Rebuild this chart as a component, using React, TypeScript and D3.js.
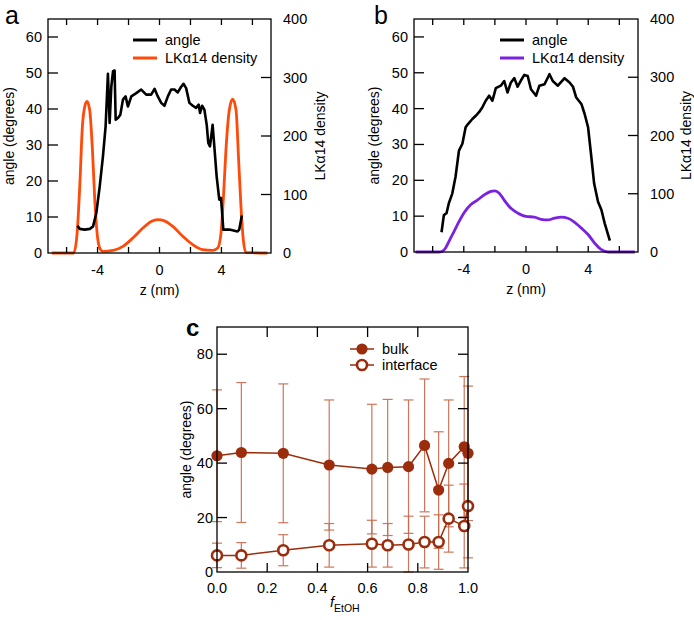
import * as d3 from 'd3';

// panel a: angle profile and LKa14 density (pure water)
const aAngleZ = [-5.3, -5.15, -4.83, -4.5, -4.29, -4.08, -3.86, -3.65, -3.48, -3.33, -3.22, -3.11, -3.0, -2.9, -2.83, -2.68, -2.53, -2.36, -2.19, -2.04, -1.82, -1.5, -1.18, -0.86, -0.54, -0.32, -0.11, 0.11, 0.32, 0.54, 0.75, 0.97, 1.18, 1.39, 1.55, 1.72, 1.93, 2.15, 2.36, 2.53, 2.62, 2.75, 2.9, 3.05, 3.15, 3.26, 3.43, 3.54, 3.69, 3.86, 3.97, 4.03, 4.12, 4.51, 5.04, 5.15, 5.32];
const aAngle = [7.6, 6.7, 6.5, 6.7, 7.4, 11.1, 18.5, 26.9, 35.2, 49.8, 36.1, 46.3, 50.5, 50.7, 37.0, 37.5, 38.4, 42.6, 43.5, 40.7, 43.5, 44.4, 45.4, 44.0, 44.0, 45.6, 43.5, 41.7, 40.9, 43.5, 45.4, 45.4, 44.6, 46.1, 47.0, 45.8, 41.7, 40.9, 40.3, 41.2, 38.9, 40.9, 39.8, 35.6, 30.6, 29.6, 35.6, 29.6, 21.3, 14.8, 15.3, 12.0, 6.5, 6.5, 6.0, 6.5, 10.4];
const aDensZ = [-6.95, -5.54, -5.32, -5.15, -4.98, -4.83, -4.68, -4.51, -4.33, -4.18, -4.03, -3.86, -3.65, -3.0, -2.36, -1.72, -1.07, -0.54, -0.11, 0.32, 0.86, 1.5, 2.15, 2.79, 3.43, 3.76, 3.97, 4.12, 4.29, 4.51, 4.72, 4.94, 5.11, 5.26, 5.41, 5.58, 6.97];
const aDens = [0, 0, 34, 114, 216, 250, 259, 245, 176, 91, 34, 8.5, 2.8, 4.5, 11.4, 25.6, 42.7, 54, 57, 55, 45.5, 28.5, 14.2, 5.7, 4.5, 8.5, 34, 91, 176, 245, 263, 245, 159, 80, 23, 1, 0];

// panel b: angle profile and LKa14 density (ethanol)
const bAngleZ = [-5.43, -5.28, -5.11, -4.96, -4.74, -4.53, -4.31, -4.09, -3.88, -3.73, -3.45, -3.23, -3.02, -2.8, -2.59, -2.37, -2.16, -1.94, -1.62, -1.4, -1.19, -0.97, -0.75, -0.54, -0.32, -0.11, 0.11, 0.32, 0.65, 0.86, 1.19, 1.51, 1.72, 2.05, 2.48, 2.8, 3.02, 3.23, 3.56, 3.77, 3.99, 4.2, 4.38, 4.63, 4.85, 5.06, 5.39];
const bAngle = [5.5, 10.3, 10.8, 13.6, 16.3, 21.0, 28.3, 30.2, 34.8, 35.7, 37.1, 38.0, 39.0, 40.4, 42.2, 43.6, 42.2, 45.7, 46.4, 47.7, 44.5, 47.3, 48.5, 46.1, 47.9, 49.4, 49.1, 45.4, 43.6, 46.4, 46.8, 49.6, 47.7, 46.4, 48.5, 47.3, 46.1, 43.1, 41.3, 38.5, 34.8, 26.5, 19.1, 14.0, 11.7, 8.0, 3.2];
const bDensZ = [-7.1, -5.6, -5.39, -5.17, -4.96, -4.63, -4.31, -3.99, -3.56, -3.13, -2.69, -2.26, -2.0, -1.72, -1.4, -0.97, -0.54, 0, 0.54, 0.97, 1.4, 1.83, 2.26, 2.69, 3.13, 3.56, 3.99, 4.42, 4.85, 5.28, 7.0];
const bDens = [0, 0, 1, 7, 18, 35, 52, 67, 81, 89, 98, 104, 105, 101, 89, 75, 67, 61, 60, 56, 55, 58, 60, 58, 51, 41, 30, 15, 4, 0, 0];

// panel c: mean angle vs ethanol fraction
const cF = [0, 0.097, 0.264, 0.447, 0.617, 0.68, 0.763, 0.827, 0.883, 0.923, 0.985, 1.0];
const cBulk = [42.7, 43.9, 43.6, 39.3, 37.8, 38.4, 38.7, 46.5, 30.1, 39.9, 46.0, 43.6];
const cBulkErr = [24.2, 25.7, 25.5, 23.9, 23.8, 25.0, 24.5, 24.4, 21.4, 23.3, 25.8, 24.7];
const cIface = [6.1, 6.1, 8.0, 9.8, 10.4, 9.8, 10.1, 11.0, 11.0, 19.6, 16.9, 24.2];
const cIfaceErr = [4.5, 4.7, 5.7, 8.0, 8.6, 8.0, 10.4, 9.5, 10.0, 12.3, 15.4, 19.0];

const FONT = '"Liberation Sans", Arial, Helvetica, sans-serif';
const BROWN = '#9b2d0c';
const ERRC = '#c8684a';

interface ProfileProps {
  left: number;
  right: number;
  top: number;
  bottom: number;
  letter: string;
  letterX: number;
  angleZ: number[];
  angle: number[];
  densZ: number[];
  dens: number[];
  densColor: string;
  legendX: number;
  rightLabelX: number;
  leftLabelX: number;
}

const ProfilePanel = (p: ProfileProps) => {
  const x = d3.scaleLinear().domain([-7.2, 7.2]).range([p.left, p.right]);
  const yL = d3.scaleLinear().domain([0, 65]).range([p.bottom, p.top]);
  const yR = d3.scaleLinear().domain([0, 400]).range([p.bottom, p.top]);

  const angleLine = d3.line<number>()
    .x((_, i) => x(p.angleZ[i]))
    .y(d => yL(d));
  const densLine = d3.line<number>()
    .x((_, i) => x(p.densZ[i]))
    .y(d => yR(d))
    .curve(d3.curveMonotoneX);

  const xTicks = d3.range(-6, 7, 2);
  const yTicks = d3.range(0, 61, 10);
  const rTicks = d3.range(0, 401, 100);
  const midY = (p.top + p.bottom) / 2;

  return (
    <g fontFamily={FONT} fill="#000">
      <text x={p.letterX} y={24} fontSize={25}>{p.letter}</text>

      <path d={densLine(p.dens) || ''} fill="none" stroke={p.densColor} strokeWidth={2.8} />
      <path d={angleLine(p.angle) || ''} fill="none" stroke="#000" strokeWidth={2.6} strokeLinejoin="round" />

      <rect x={p.left} y={p.top} width={p.right - p.left} height={p.bottom - p.top} fill="none" stroke="#000" strokeWidth={1.3} />

      {xTicks.map(t => (
        <g key={'x' + t}>
          <line x1={x(t)} x2={x(t)} y1={p.bottom} y2={p.bottom - 6} stroke="#000" strokeWidth={1.3} />
          <line x1={x(t)} x2={x(t)} y1={p.top} y2={p.top + 6} stroke="#000" strokeWidth={1.3} />
        </g>
      ))}
      {[-4, 0, 4].map(t => (
        <text key={'xl' + t} x={x(t)} y={p.bottom + 22} fontSize={14.5} textAnchor="middle">{t}</text>
      ))}
      {yTicks.map(t => (
        <g key={'y' + t}>
          {t > 0 && <line x1={p.left} x2={p.left + 10} y1={yL(t)} y2={yL(t)} stroke="#000" strokeWidth={1.3} />}
          <text x={p.left - 6} y={yL(t) + 5} fontSize={14.5} textAnchor="end">{t}</text>
        </g>
      ))}
      {rTicks.map(t => (
        <g key={'r' + t}>
          {t > 0 && t < 400 && <line x1={p.right} x2={p.right - 10} y1={yR(t)} y2={yR(t)} stroke="#000" strokeWidth={1.3} />}
          <text x={p.right + 12} y={yR(t) + 5} fontSize={14.5} textAnchor="start">{t}</text>
        </g>
      ))}

      <text x={x(0)} y={p.bottom + 42} fontSize={14} textAnchor="middle">z (nm)</text>
      <text transform={`translate(${p.leftLabelX},${midY}) rotate(-90)`} fontSize={14} textAnchor="middle">angle (degrees)</text>
      <text transform={`translate(${p.rightLabelX},${midY}) rotate(-90)`} fontSize={14} textAnchor="middle">LKα14 density</text>

      <line x1={p.legendX} x2={p.legendX + 24} y1={40} y2={40} stroke="#000" strokeWidth={3} />
      <text x={p.legendX + 32} y={45} fontSize={14.5}>angle</text>
      <line x1={p.legendX} x2={p.legendX + 24} y1={58} y2={58} stroke={p.densColor} strokeWidth={3} />
      <text x={p.legendX + 32} y={63} fontSize={14.5}>LKα14 density</text>
    </g>
  );
};

const FractionPanel = () => {
  const left = 217, right = 468, top = 327, bottom = 572;
  const x = d3.scaleLinear().domain([0, 1]).range([left, right]);
  const y = d3.scaleLinear().domain([0, 90]).range([bottom, top]);

  const bulkLine = d3.line<number>().x((_, i) => x(cF[i])).y(d => y(d));
  const xTicks = d3.range(0, 1.01, 0.2);
  const yTicks = d3.range(0, 81, 20);

  const errBars = (vals: number[], errs: number[], key: string) =>
    vals.map((v, i) => {
      const cx = x(cF[i]);
      const lo = y(Math.max(0, v - errs[i]));
      const hi = y(v + errs[i]);
      return (
        <g key={key + i} stroke={ERRC} strokeWidth={1.2} opacity={0.9}>
          <line x1={cx} x2={cx} y1={lo} y2={hi} />
          <line x1={cx - 5} x2={cx + 5} y1={lo} y2={lo} />
          <line x1={cx - 5} x2={cx + 5} y1={hi} y2={hi} />
        </g>
      );
    });

  return (
    <g fontFamily={FONT} fill="#000">
      <text x={186} y={336} fontSize={24} fontWeight="bold">c</text>

      {errBars(cBulk, cBulkErr, 'eb')}
      {errBars(cIface, cIfaceErr, 'ei')}

      <path d={bulkLine(cBulk) || ''} fill="none" stroke={BROWN} strokeWidth={1.5} />
      <path d={bulkLine(cIface) || ''} fill="none" stroke={BROWN} strokeWidth={1.5} />

      {cBulk.map((v, i) => (
        <circle key={'b' + i} cx={x(cF[i])} cy={y(v)} r={5.6} fill={BROWN} />
      ))}
      {cIface.map((v, i) => (
        <circle key={'o' + i} cx={x(cF[i])} cy={y(v)} r={5} fill="#fff" stroke={BROWN} strokeWidth={2.6} />
      ))}

      <rect x={left} y={top} width={right - left} height={bottom - top} fill="none" stroke="#000" strokeWidth={1.3} />

      {xTicks.map(t => (
        <g key={'x' + t}>
          {t > 0.01 && t < 0.99 && (
            <>
              <line x1={x(t)} x2={x(t)} y1={bottom} y2={bottom - 9} stroke="#000" strokeWidth={1.3} />
              <line x1={x(t)} x2={x(t)} y1={top} y2={top + 10} stroke="#000" strokeWidth={1.3} />
            </>
          )}
          <text x={x(t)} y={bottom + 21} fontSize={14.5} textAnchor="middle">{t.toFixed(1)}</text>
        </g>
      ))}
      {yTicks.map(t => (
        <g key={'y' + t}>
          {t > 0 && (
            <>
              <line x1={left} x2={left + 10} y1={y(t)} y2={y(t)} stroke="#000" strokeWidth={1.3} />
              <line x1={right} x2={right - 10} y1={y(t)} y2={y(t)} stroke="#000" strokeWidth={1.3} />
            </>
          )}
          <text x={left - 4} y={y(t) + 5} fontSize={14.5} textAnchor="end">{t}</text>
        </g>
      ))}

      <text transform={`translate(191,${(top + bottom) / 2}) rotate(-90)`} fontSize={14} textAnchor="middle">angle (degrees)</text>
      <text x={330} y={607} fontSize={14.5} fontStyle="italic">f<tspan fontStyle="normal" fontSize={10.5} dy={5}>EtOH</tspan></text>

      <line x1={350} x2={374} y1={349} y2={349} stroke={BROWN} strokeWidth={1.5} />
      <circle cx={362} cy={349} r={5.6} fill={BROWN} />
      <text x={382} y={354} fontSize={14.5}>bulk</text>
      <line x1={350} x2={374} y1={365} y2={365} stroke={BROWN} strokeWidth={1.5} />
      <circle cx={362} cy={365} r={5} fill="#fff" stroke={BROWN} strokeWidth={2.6} />
      <text x={382} y={370} fontSize={14.5}>interface</text>
    </g>
  );
};

export default function App() {
  return (
    <svg width={694} height={620} style={{ position: 'absolute', left: 0, top: 0, background: '#fff' }}>
      <rect width={694} height={620} fill="#fff" />
      <ProfilePanel left={48} right={271} top={19} bottom={253} letter="a" letterX={5}
        angleZ={aAngleZ} angle={aAngle} densZ={aDensZ} dens={aDens} densColor="#ff4a0a"
        legendX={133} leftLabelX={14} rightLabelX={325} />
      <ProfilePanel left={414} right={638} top={19} bottom={252} letter="b" letterX={374}
        angleZ={bAngleZ} angle={bAngle} densZ={bDensZ} dens={bDens} densColor="#7b22e0"
        legendX={500} leftLabelX={379} rightLabelX={691} />
      <FractionPanel />
    </svg>
  );
}
